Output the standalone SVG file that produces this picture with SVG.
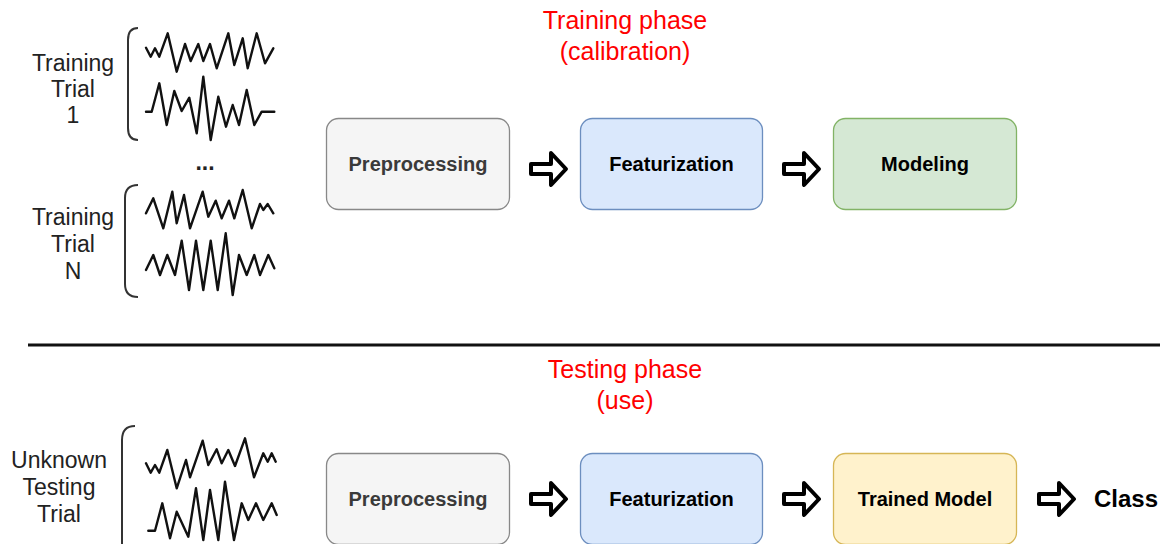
<svg xmlns="http://www.w3.org/2000/svg" width="1160" height="544" viewBox="0 0 1160 544">
  <style>
    .lbl { font-family: "Liberation Sans", Arial, sans-serif; font-size: 23px; fill: #222; text-anchor: middle; }
    .phase { font-family: "Liberation Sans", Arial, sans-serif; font-size: 25px; fill: #ff0000; text-anchor: middle; }
    .box { stroke-width: 1.3; }
    .btxt { font-family: "Liberation Sans", Arial, sans-serif; font-size: 20px; font-weight: bold; text-anchor: middle; fill: #000; }
    .btxt.grey { fill: #3a3a3a; }
    .wave { fill: none; stroke: #111; stroke-width: 2.4; stroke-linejoin: round; stroke-linecap: round; }
    .brace { fill: none; stroke: #333; stroke-width: 2; }
    .arr { fill: #fff; stroke: #000; stroke-width: 4; stroke-linejoin: round; }
  </style>
  <defs>
    <!-- hollow block arrow, origin at left middle -->
    <path id="blk" class="arr" d="M2,-5 L22,-5 L22,-16 L37,0 L22,16 L22,5 L2,5 Z"/>
  </defs>

  <rect width="1160" height="544" fill="#fff"/>

  <!-- phase titles -->
  <text class="phase" x="625" y="29">Training phase</text>
  <text class="phase" x="625" y="60">(calibration)</text>
  <text class="phase" x="625" y="378">Testing phase</text>
  <text class="phase" x="625" y="409">(use)</text>

  <!-- divider -->
  <line x1="28" y1="345" x2="1160" y2="345" stroke="#111" stroke-width="3"/>

  <!-- training trial 1 -->
  <g id="trial1">
    <text class="lbl" x="73" y="71">Training</text>
    <text class="lbl" x="73" y="97">Trial</text>
    <text class="lbl" x="73" y="123">1</text>
    <path class="brace" d="M138,28 Q128,28 128,40 L128,128 Q128,140 138,140"/>
    <polyline class="wave" points="146,47.7 150.7,56.7 155,48.3 159.3,56.7 167.7,33.3 176.7,71.7 185,44 190.7,61 198.3,44 203.3,61 210,44 216.7,68.3 228.3,33.3 234.3,65 242.7,38.3 247.7,68.3 256.7,33.3 265,63.3 273.3,48.3"/>
    <polyline class="wave" points="146,111.7 151.7,111.7 159.3,83.3 166.7,125 174.3,91 181.7,111 189.3,97.7 196.7,133.3 203.3,76.7 210.7,140 218.3,96.7 226,126.7 232.7,105 239,125 246.7,90 254.3,125 261.7,111.7 274.3,111.7"/>
  </g>

  <text class="lbl" x="205" y="170" font-size="26" font-weight="bold">...</text>

  <!-- training trial N -->
  <g id="trialN">
    <text class="lbl" x="73" y="225">Training</text>
    <text class="lbl" x="73" y="252">Trial</text>
    <text class="lbl" x="73" y="279">N</text>
    <path class="brace" d="M138,185 Q125,185 125,198 L125,284 Q125,297 138,297"/>
    <polyline class="wave" points="146,213.3 153.3,198.3 163.3,228.3 172.3,191.7 176.7,223.3 184,195 190,228.3 202.7,191.7 208.3,216.7 215.7,200.7 221.7,218.3 229,200.7 234.3,218.3 242.7,190 251.7,228.3 260,204 263.3,210 267.7,204 273.3,213.3"/>
    <polyline class="wave" points="146,270 153.3,255 160,275 167.3,255 175,275 181.7,240.7 189,290 196,240.7 203.3,290 210.7,240.7 217.7,290 225.7,233.3 232.7,295 239,255 246.7,275 254.3,255 260,275 268.3,255 274.3,268.3"/>
  </g>

  <!-- unknown testing trial -->
  <g id="testTrial">
    <text class="lbl" x="59" y="468">Unknown</text>
    <text class="lbl" x="59" y="495">Testing</text>
    <text class="lbl" x="59" y="522">Trial</text>
    <path class="brace" d="M135,426 Q122,426 122,440 L122,548"/>
    <polyline class="wave" points="146,463.3 150.7,472.7 155,465 159.3,472.7 167.3,450 176.7,488.3 186,460 190,477.3 202.7,440.7 208.3,465 216.7,449.3 221.7,463.3 228.3,450 235,466 245,438.3 254,477.3 263.3,453.3 267.7,461.7 271.7,453.3 275.7,461.7"/>
    <polyline class="wave" points="148.3,530.7 155,530.7 162.3,503.3 170,538.3 176.7,511.7 188.3,536.7 196,488.3 203.3,540 210,490 218.3,540 225,481.7 234,540 241.7,503.3 248.3,520 256,503.3 263.3,520 271.7,503.3 276.7,515"/>
  </g>

  <!-- training pipeline -->
  <g id="trainPre">
    <rect class="box" x="326.5" y="118.5" width="183" height="91" rx="12" fill="#f5f5f5" stroke="#888"/>
    <text class="btxt grey" x="418" y="171">Preprocessing</text>
  </g>
  <g id="trainFeat">
    <rect class="box" x="580.5" y="118.5" width="182" height="91" rx="12" fill="#dae8fc" stroke="#6c8ebf"/>
    <text class="btxt" x="671.5" y="171">Featurization</text>
  </g>
  <g id="trainModel">
    <rect class="box" x="833.5" y="118.5" width="183" height="91" rx="12" fill="#d5e8d4" stroke="#82b366"/>
    <text class="btxt" x="925" y="171">Modeling</text>
  </g>

  <!-- testing pipeline -->
  <g id="testPre">
    <rect class="box" x="326.5" y="453.5" width="183" height="91" rx="12" fill="#f5f5f5" stroke="#888"/>
    <text class="btxt grey" x="418" y="506">Preprocessing</text>
  </g>
  <g id="testFeat">
    <rect class="box" x="580.5" y="453.5" width="182" height="91" rx="12" fill="#dae8fc" stroke="#6c8ebf"/>
    <text class="btxt" x="671.5" y="506">Featurization</text>
  </g>
  <g id="trainedModel">
    <rect class="box" x="833.5" y="453.5" width="183" height="91" rx="12" fill="#fff2cc" stroke="#d6b656"/>
    <text class="btxt" x="925" y="506">Trained Model</text>
  </g>
  <g id="classOut">
    <text x="1094" y="507" font-family="Liberation Sans, Arial, sans-serif" font-size="24" font-weight="bold" fill="#000">Class</text>
  </g>

  <!-- connectors -->
  <g id="connectors">
    <use href="#blk" x="529" y="169"/>
    <use href="#blk" x="782" y="169"/>
    <use href="#blk" x="529" y="499"/>
    <use href="#blk" x="782" y="499"/>
    <use href="#blk" x="1037" y="499"/>
  </g>
</svg>
